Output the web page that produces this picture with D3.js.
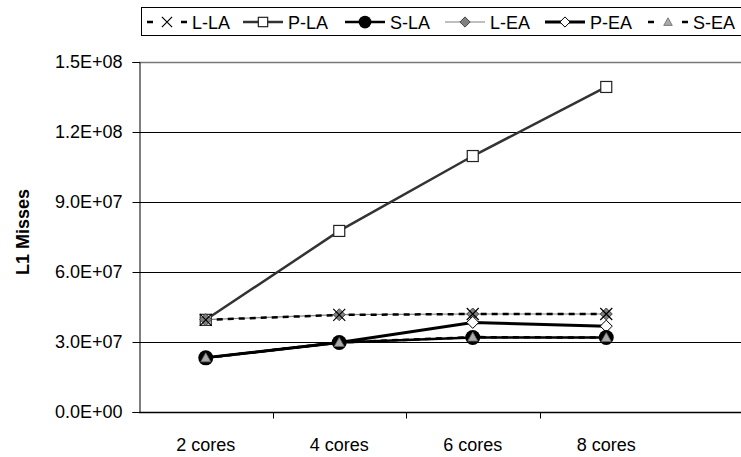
<!DOCTYPE html>
<html>
<head>
<meta charset="utf-8">
<script src="https://cdn.jsdelivr.net/npm/d3@7"></script>
<style>
  body { margin: 0; background: #fff; }
  text { font-family: "Liberation Sans", Arial, sans-serif; }
</style>
</head>
<body>
<div id="chart"></div>
<script>
// categories and series
const cores = ["2 cores", "4 cores", "6 cores", "8 cores"];
const yTicks = [0, 3e7, 6e7, 9e7, 1.2e8, 1.5e8];

const lLA = [39.5e6, 41.6e6, 42.0e6, 42.0e6];
const pLA = [39.5e6, 77.6e6, 109.7e6, 139.3e6];
const sLA = [23.2e6, 29.8e6, 31.9e6, 31.9e6];
const lEA = [39.6e6, 41.7e6, 42.0e6, 42.0e6];
const pEA = [23.3e6, 29.8e6, 38.4e6, 36.8e6];
const sEA = [23.2e6, 29.8e6, 32.1e6, 31.9e6];

const width = 741, height = 457;
const margin = { top: 62, bottom: 45, left: 139, right: 0 };
const fontSize = "18px";

const series = [
  { name: "L-LA", values: lLA, stroke: "#000", sw: 2.5, dash: "6,5", marker: "x" },
  { name: "P-LA", values: pLA, stroke: "#333", sw: 2.5, dash: null, marker: "square" },
  { name: "S-LA", values: sLA, stroke: "#000", sw: 2.5, dash: null, marker: "circle" },
  { name: "L-EA", values: lEA, stroke: "#808080", sw: 1.2, dash: null, marker: "diamondGray" },
  { name: "P-EA", values: pEA, stroke: "#000", sw: 3, dash: null, marker: "diamondWhite" },
  { name: "S-EA", values: sEA, stroke: "#000", sw: 2.5, dash: "6,5", marker: "triangle" }
];

const svg = d3.select("#chart").append("svg")
  .attr("width", width)
  .attr("height", height);

const xScale = d3.scaleBand()
  .domain(cores)
  .range([margin.left, 673]);

const yScale = d3.scaleLinear()
  .domain([0, 1.5e8])
  .range([height - margin.bottom, margin.top]);

const fmt = v => {
  if (v === 0) return "0.0E+00";
  const e = Math.floor(Math.log10(v));
  return (v / Math.pow(10, e)).toFixed(1) + "E+" + String(e).padStart(2, "0");
};

// gridlines
svg.append("g")
  .selectAll("line")
  .data(yTicks.slice(1))
  .join("line")
    .attr("x1", margin.left)
    .attr("x2", width)
    .attr("y1", d => Math.round(yScale(d)) + 0.5)
    .attr("y2", d => Math.round(yScale(d)) + 0.5)
    .attr("stroke", d => d === 1.5e8 ? "#777" : "#000")
    .attr("stroke-width", d => d === 1.5e8 ? 1.5 : 1);

// y axis
const yAxis = svg.append("g")
  .attr("transform", `translate(${margin.left + 0.5},0)`)
  .call(d3.axisLeft(yScale).tickValues(yTicks).tickFormat(fmt).tickSizeOuter(0).tickSize(7).tickPadding(10));
yAxis.select(".domain").attr("stroke", "#000");
yAxis.selectAll("text")
  .attr("font-family", null)
  .attr("font-size", null)
  .style("font-size", fontSize)
  .attr("fill", "#000");

// x axis
const xAxisY = Math.round(yScale(0)) + 0.5;
svg.append("line")
  .attr("x1", margin.left).attr("x2", width)
  .attr("y1", xAxisY).attr("y2", xAxisY)
  .attr("stroke", "#000").attr("stroke-width", 1.5);
svg.append("g")
  .selectAll("line")
  .data(cores.slice(1))
  .join("line")
    .attr("x1", d => Math.round(xScale(d)) + 0.5)
    .attr("x2", d => Math.round(xScale(d)) + 0.5)
    .attr("y1", xAxisY)
    .attr("y2", xAxisY + 6)
    .attr("stroke", "#000");
svg.append("g")
  .selectAll("text")
  .data(cores)
  .join("text")
    .attr("x", d => xScale(d) + xScale.bandwidth() / 2)
    .attr("y", xAxisY + 38)
    .attr("text-anchor", "middle")
    .style("font-size", fontSize)
    .text(d => d);

// y title
svg.append("text")
  .attr("transform", `translate(29,232) rotate(-90)`)
  .attr("text-anchor", "middle")
  .style("font-size", fontSize)
  .style("font-weight", "bold")
  .text("L1 Misses");

function drawMarker(g, type, x, y, k = 1) {
  if (type === "x") {
    const r = 6 * k;
    g.append("path")
      .attr("d", `M${x - r},${y - r}L${x + r},${y + r}M${x - r},${y + r}L${x + r},${y - r}`)
      .attr("stroke", "#000").attr("stroke-width", 1.2).attr("fill", "none");
  } else if (type === "square") {
    const r = 5.5 * k;
    g.append("rect")
      .attr("x", x - r).attr("y", y - r).attr("width", 2 * r).attr("height", 2 * r)
      .attr("fill", "#fff").attr("stroke", "#222").attr("stroke-width", 1.2);
  } else if (type === "circle") {
    g.append("circle")
      .attr("cx", x).attr("cy", y).attr("r", 7.5 * k)
      .attr("fill", "#000");
  } else if (type === "diamondGray") {
    const r = 6 * k;
    g.append("path")
      .attr("d", `M${x},${y - r}L${x + r},${y}L${x},${y + r}L${x - r},${y}Z`)
      .attr("fill", "#808080").attr("stroke", "#444").attr("stroke-width", 1);
  } else if (type === "diamondWhite") {
    const r = 6 * k;
    g.append("path")
      .attr("d", `M${x},${y - r}L${x + r},${y}L${x},${y + r}L${x - r},${y}Z`)
      .attr("fill", "#fff").attr("stroke", "#000").attr("stroke-width", 1);
  } else if (type === "triangle") {
    const r = 5 * k;
    g.append("path")
      .attr("d", `M${x},${y - r}L${x + r},${y + r * 0.8}L${x - r},${y + r * 0.8}Z`)
      .attr("fill", "#aaa").attr("stroke", "#666").attr("stroke-width", 0.8);
  }
}

const line = d3.line()
  .x((d, i) => xScale(cores[i]) + xScale.bandwidth() / 2)
  .y(d => yScale(d));

// lines first (back to front), then markers
const drawOrder = [1, 3, 0, 4, 2, 5];
drawOrder.forEach(k => {
  const s = series[k];
  svg.append("path")
    .datum(s.values)
    .attr("d", line)
    .attr("fill", "none")
    .attr("stroke", s.stroke)
    .attr("stroke-width", s.sw)
    .attr("stroke-dasharray", s.dash);
});
drawOrder.forEach(k => {
  const s = series[k];
  const g = svg.append("g");
  s.values.forEach((v, i) => {
    drawMarker(g, s.marker, xScale(cores[i]) + xScale.bandwidth() / 2, yScale(v));
  });
});

// legend
const legend = svg.append("g");
legend.append("rect")
  .attr("x", 141.5).attr("y", 7.5)
  .attr("width", 620).attr("height", 28)
  .attr("fill", "#fff").attr("stroke", "#000");

const legendX = [147, 243, 345, 445, 545, 648];
series.forEach((s, i) => {
  const x0 = legendX[i], ly = 22;
  const g = legend.append("g");
  g.append("line")
    .attr("x1", x0).attr("x2", x0 + 40)
    .attr("y1", ly).attr("y2", ly)
    .attr("stroke", s.stroke)
    .attr("stroke-width", s.sw)
    .attr("stroke-dasharray", s.dash ? "6,28" : null);
  drawMarker(g, s.marker, x0 + 20, ly, 0.85);
  g.append("text")
    .attr("x", x0 + 45)
    .attr("y", ly + 6.5)
    .style("font-size", fontSize)
    .text(s.name);
});
</script>
</body>
</html>
